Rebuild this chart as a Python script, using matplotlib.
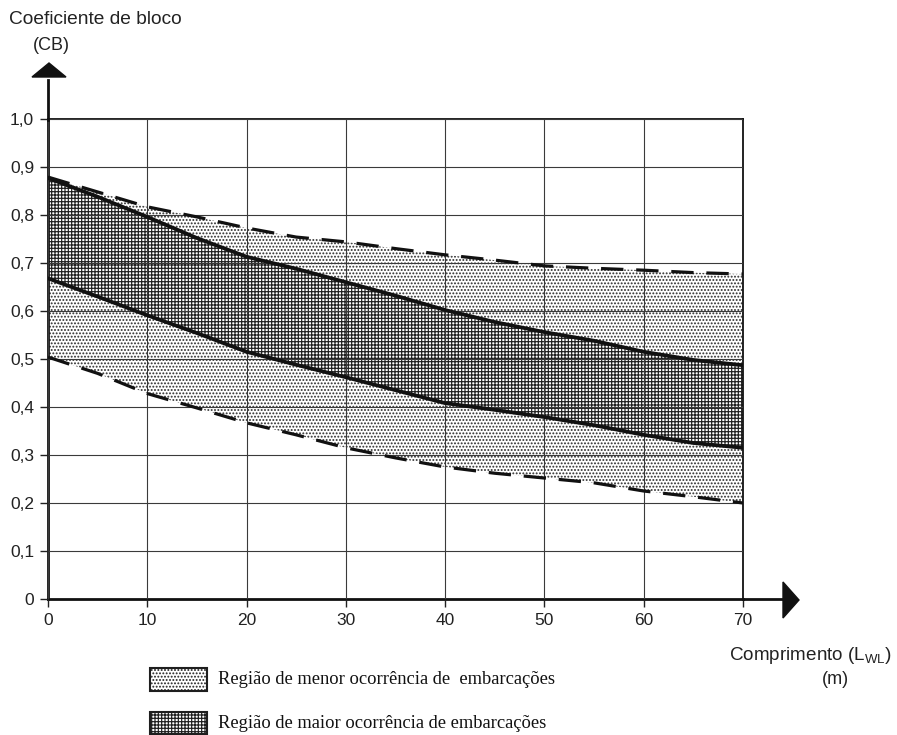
import numpy as np
import matplotlib.pyplot as plt
from matplotlib.patches import Polygon, Rectangle
from matplotlib.lines import Line2D

plt.rcParams['font.family'] = ['Liberation Sans', 'DejaVu Sans']
plt.rcParams['mathtext.fontset'] = 'custom'
plt.rcParams['mathtext.rm'] = 'Liberation Sans'

# Comprimento (m) e limites do coeficiente de bloco
comprimento = [0, 5, 10, 15, 20, 25, 30, 35, 40, 45, 50, 55, 60, 65, 70]
menor_sup = [0.879, 0.848, 0.817, 0.796, 0.773, 0.754, 0.744, 0.730, 0.717, 0.706, 0.694, 0.689, 0.685, 0.680, 0.677]
maior_sup = [0.877, 0.838, 0.796, 0.752, 0.713, 0.688, 0.660, 0.632, 0.602, 0.577, 0.556, 0.538, 0.515, 0.498, 0.487]
maior_inf = [0.668, 0.630, 0.591, 0.554, 0.515, 0.488, 0.462, 0.435, 0.408, 0.394, 0.379, 0.362, 0.342, 0.325, 0.315]
menor_inf = [0.504, 0.470, 0.428, 0.398, 0.367, 0.342, 0.315, 0.294, 0.275, 0.262, 0.252, 0.242, 0.225, 0.213, 0.200]

x_ticks = [0, 10, 20, 30, 40, 50, 60, 70]
y_ticks = [0, 0.1, 0.2, 0.3, 0.4, 0.5, 0.6, 0.7, 0.8, 0.9, 1.0]
y_labels = ['0', '0,1', '0,2', '0,3', '0,4', '0,5', '0,6', '0,7', '0,8', '0,9', '1,0']

W, H = 897, 735
HATCH_MENOR = '.....'
HATCH_MAIOR = '+++++'
LW_MENOR = 0.9
LW_MAIOR = 0.85


def px(x, y):
    # pixel da figura -> fracao da figura
    return (x / W, 1 - y / H)


fig = plt.figure(figsize=(W / 100, H / 100), dpi=100)
ax = fig.add_axes([48 / W, 136 / H, 695 / W, 480 / H])

# regioes
with plt.rc_context({'hatch.linewidth': LW_MENOR}):
    ax.fill_between(comprimento, menor_inf, menor_sup, facecolor='white',
                    edgecolor='#2a2a2a', hatch=HATCH_MENOR, linewidth=0, zorder=1)
with plt.rc_context({'hatch.linewidth': LW_MAIOR}):
    ax.fill_between(comprimento, maior_inf, maior_sup, facecolor='white',
                    edgecolor='#1e1e1e', hatch=HATCH_MAIOR, linewidth=0, zorder=1)

# curvas limite
ax.plot(comprimento, menor_sup, color='#111', lw=2.3, dashes=(7, 4), zorder=3)
ax.plot(comprimento, menor_inf, color='#111', lw=2.3, dashes=(7, 4), zorder=3)
ax.plot(comprimento, maior_sup, color='#111', lw=2.7, zorder=3)
ax.plot(comprimento, maior_inf, color='#111', lw=2.7, zorder=3)

ax.set_xlim(0, 70)
ax.set_ylim(0, 1.0)
ax.set_xticks(x_ticks)
ax.set_yticks(y_ticks)
ax.set_yticklabels(y_labels)
ax.grid(True, color='#3a3a3a', lw=0.8)
ax.set_axisbelow(False)
ax.tick_params(direction='out', length=6, width=1, labelsize=12.5, pad=4,
               colors='#222')

ax.spines['left'].set_linewidth(2)
ax.spines['bottom'].set_linewidth(2)
ax.spines['top'].set_linewidth(1.3)
ax.spines['right'].set_linewidth(1.3)
for s in ax.spines.values():
    s.set_color('#111')

# prolongamento dos eixos e setas
x0, y0 = px(48, 120)
x1, y1 = px(48, 80)
fig.add_artist(Line2D([x0, x1], [y0, y1], color='#111', lw=2))
x0, y0 = px(743, 599)
x1, y1 = px(783, 599)
fig.add_artist(Line2D([x0, x1], [y0, y1], color='#111', lw=2))
fig.add_artist(Polygon([px(32, 77), px(66, 77), px(49, 63)], closed=True,
                       facecolor='#111', edgecolor='#111', transform=fig.transFigure))
fig.add_artist(Polygon([px(783, 582), px(783, 618), px(799, 600)], closed=True,
                       facecolor='#111', edgecolor='#111', transform=fig.transFigure))

# titulos dos eixos
fig.text(*px(9, 20), 'Coeficiente de bloco', fontsize=13.8, color='#222',
         ha='left', va='center')
fig.text(*px(51, 46), '(CB)', fontsize=13, color='#222', ha='center', va='center')
fig.text(*px(729, 656), r'Comprimento (L$_{\mathrm{WL}}$)', fontsize=13.6,
         color='#222', ha='left', va='center')
fig.text(*px(835, 679), '(m)', fontsize=13, color='#222', ha='center', va='center')

# legenda
with plt.rc_context({'hatch.linewidth': LW_MENOR}):
    fig.add_artist(Rectangle(px(150, 691), 57 / W, 23 / H, transform=fig.transFigure,
                             facecolor='white', edgecolor='#1e1e1e', lw=1.5,
                             hatch=HATCH_MENOR))
with plt.rc_context({'hatch.linewidth': LW_MAIOR}):
    fig.add_artist(Rectangle(px(150, 734), 57 / W, 22 / H, transform=fig.transFigure,
                             facecolor='white', edgecolor='#1e1e1e', lw=1.5,
                             hatch=HATCH_MAIOR))
fig.text(*px(218, 680), 'Região de menor ocorrência de  embarcações', fontsize=13.3,
         family='Liberation Serif', color='#111', ha='left', va='center')
fig.text(*px(218, 723), 'Região de maior ocorrência de embarcações', fontsize=13.3,
         family='Liberation Serif', color='#111', ha='left', va='center')

plt.savefig('out.png', dpi=100)
